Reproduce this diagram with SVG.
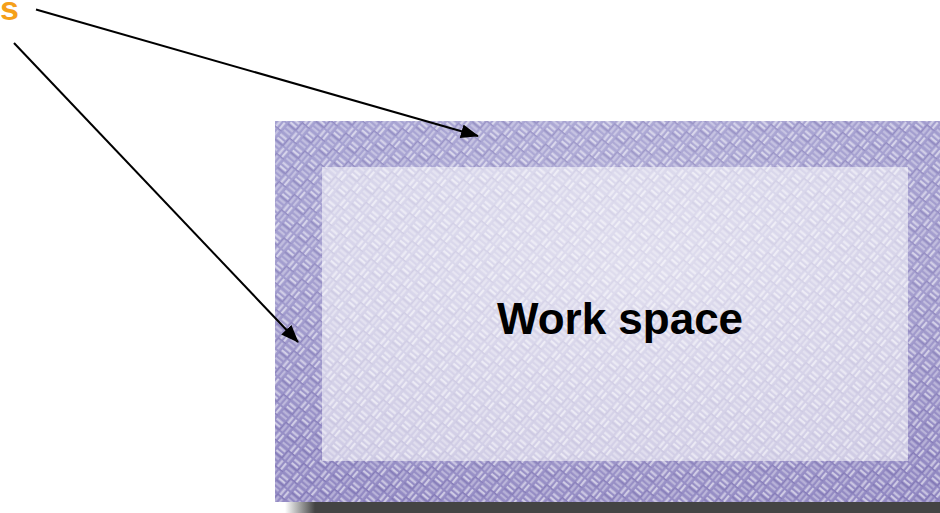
<svg xmlns="http://www.w3.org/2000/svg" width="940" height="513" viewBox="0 0 940 513">
  <style>
    .lbl { font-family: "Liberation Sans", Arial, sans-serif; font-weight: bold; }
    .conn { stroke: #000; stroke-width: 2; fill: none; marker-end: url(#arrow); }
  </style>
  <defs>
    <marker id="arrow" markerUnits="userSpaceOnUse" viewBox="0 0 18 14" markerWidth="18" markerHeight="14" refX="17" refY="7" orient="auto">
      <path d="M0,0 L18,7 L0,14 Z" fill="#000"/>
    </marker>
    <pattern id="weave" width="20" height="20" patternUnits="userSpaceOnUse" patternTransform="rotate(40)">
      <g fill="#ffffff" opacity="0.55">
        <rect x="1" y="1.5" width="8" height="2.2"/>
        <rect x="1" y="6" width="8" height="2.2"/>
        <rect x="11.5" y="11" width="2.2" height="8"/>
        <rect x="16" y="11" width="2.2" height="8"/>
      </g>
      <g fill="#ffffff" opacity="0.35">
        <rect x="11.5" y="1" width="2.2" height="8"/>
        <rect x="16" y="1" width="2.2" height="8"/>
        <rect x="1" y="11.5" width="8" height="2.2"/>
        <rect x="1" y="16" width="8" height="2.2"/>
      </g>
      <g fill="#5a4f98" opacity="0.3">
        <rect x="0" y="9" width="10" height="1.5"/>
        <rect x="10" y="19" width="10" height="1"/>
        <rect x="10" y="0" width="1" height="10"/>
      </g>
    </pattern>
    <radialGradient id="glow" cx="0.55" cy="0.4" r="0.7">
      <stop offset="0" stop-color="#ffffff" stop-opacity="0.3"/>
      <stop offset="1" stop-color="#ffffff" stop-opacity="0"/>
    </radialGradient>
    <linearGradient id="tone" x1="0" y1="0" x2="0.3" y2="1">
      <stop offset="0" stop-color="#a29ed0"/>
      <stop offset="1" stop-color="#9188c2"/>
    </linearGradient>
    <linearGradient id="shadow" x1="285" y1="0" x2="315" y2="0" gradientUnits="userSpaceOnUse">
      <stop offset="0" stop-color="#ffffff"/>
      <stop offset="1" stop-color="#444444"/>
    </linearGradient>
  </defs>

  <rect width="940" height="513" fill="#ffffff"/>

  <g id="frame">
    <rect x="285" y="502" width="655" height="11" fill="url(#shadow)"/>
    <rect x="275" y="121" width="665" height="381" fill="url(#tone)"/>
    <rect x="275" y="121" width="665" height="381" fill="url(#weave)"/>
    <rect x="275" y="121" width="665" height="381" fill="url(#glow)"/>
  </g>

  <g id="workspace">
    <rect x="322" y="167" width="586" height="294" fill="#ffffff" opacity="0.55"/>
    <text class="lbl" x="620" y="334" font-size="44" text-anchor="middle" fill="#000">Work space</text>
  </g>

  <g id="label">
    <text class="lbl" x="0" y="20" font-size="34" fill="#f5a01a">s</text>
  </g>

  <g id="connectors">
    <path class="conn" d="M36,9.5 L478,136"/>
    <path class="conn" d="M14,43 L298,342"/>
  </g>
</svg>
